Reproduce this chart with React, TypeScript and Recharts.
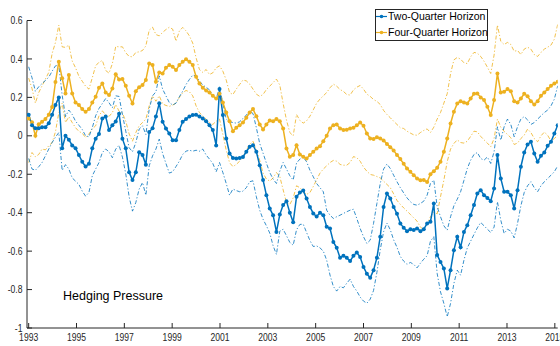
import React from 'react';
import { LineChart, Line, XAxis, YAxis } from 'recharts';

const START_YEAR = 1993;
const STEP_YEARS = 0.14;
const yearTicks = [1993, 1995, 1997, 1999, 2001, 2003, 2005, 2007, 2009, 2011, 2013, 2015];
const valueTicks = [-1, -0.8, -0.6, -0.4, -0.2, 0, 0.2, 0.4, 0.6];
const legendLabels = ['Two-Quarter Horizon', 'Four-Quarter Horizon'];
const noteText = 'Hedging Pressure';

// Two-Quarter Horizon: estimate, upper and lower bands
const twoQuarter = [
  0.11, 0.055, 0.04, 0.04, 0.045, 0.045, 0.065, 0.11, 0.16, 0.2,
  -0.065, 0.0, -0.02, -0.05, -0.065, -0.1, -0.135, -0.16, -0.145, -0.065,
  -0.015, 0.01, 0.09, 0.1, 0.03, 0.055, 0.075, 0.115, -0.015, -0.065,
  -0.19, -0.23, -0.19, -0.085, -0.1, -0.15, 0.02, 0.04, 0.1, 0.17,
  0.073, 0.038, 0.012, -0.023, -0.023, 0.03, 0.073, 0.087, 0.1, 0.108,
  0.11, 0.1, 0.09, 0.076, 0.055, 0.03, -0.05, 0.243, 0.108, -0.014,
  -0.092, -0.115, -0.118, -0.115, -0.11, -0.083, -0.057, -0.049, -0.083, -0.153,
  -0.23, -0.309, -0.378, -0.413, -0.5, -0.41, -0.36, -0.34, -0.4, -0.45,
  -0.317, -0.295, -0.285, -0.326, -0.37, -0.404, -0.42, -0.4, -0.413, -0.473,
  -0.482, -0.552, -0.583, -0.635, -0.624, -0.635, -0.652, -0.624, -0.607, -0.631,
  -0.682, -0.718, -0.739, -0.699, -0.635, -0.525, -0.37, -0.3, -0.326, -0.37,
  -0.406, -0.456, -0.479, -0.496, -0.486, -0.49, -0.482, -0.496, -0.486, -0.456,
  -0.447, -0.352, -0.62, -0.656, -0.69, -0.794, -0.699, -0.595, -0.525, -0.58,
  -0.5, -0.465, -0.413, -0.36, -0.3, -0.283, -0.309, -0.323, -0.34, -0.274,
  -0.1, -0.222, -0.291, -0.291, -0.309, -0.378, -0.283, -0.161, -0.087, -0.045,
  -0.031, -0.092, -0.135, -0.104, -0.087, -0.052, -0.031, 0.012, 0.055,
];
const twoQuarterUpper = [
  0.359, 0.302, 0.232, 0.255, 0.272, 0.288, 0.305, 0.336, 0.364, 0.368,
  0.212, 0.1, 0.134, 0.111, 0.076, 0.055, 0.033, 0.0, -0.005, 0.042,
  0.104, 0.142, 0.168, 0.194, 0.172, 0.146, 0.208, 0.205, 0.111, 0.024,
  -0.062, -0.083, -0.035, 0.035, 0.052, 0.007, 0.139, 0.208, 0.229, 0.312,
  0.243, 0.208, 0.173, 0.16, 0.17, 0.203, 0.232, 0.267, 0.293, 0.316,
  0.312, 0.286, 0.264, 0.253, 0.239, 0.208, 0.191, 0.255, 0.168, 0.087,
  0.073, 0.069, 0.066, 0.073, 0.09, 0.108, 0.128, 0.116, 0.042, -0.04,
  -0.09, -0.142, -0.191, -0.225, -0.248, -0.184, -0.139, -0.173, -0.208, -0.23,
  -0.142, -0.121, -0.111, -0.135, -0.179, -0.213, -0.248, -0.27, -0.291, -0.387,
  -0.413, -0.43, -0.421, -0.413, -0.404, -0.395, -0.387, -0.382, -0.43, -0.482,
  -0.525, -0.56, -0.543, -0.456, -0.352, -0.248, -0.173, -0.147, -0.17, -0.205,
  -0.239, -0.27, -0.297, -0.323, -0.343, -0.357, -0.361, -0.352, -0.34, -0.309,
  -0.248, -0.23, -0.369, -0.421, -0.468, -0.491, -0.421, -0.364, -0.33, -0.291,
  -0.232, -0.17, -0.127, -0.097, -0.087, -0.118, -0.127, -0.11, -0.144, -0.083,
  0.047, -0.023, 0.047, 0.087, 0.059, -0.005, 0.047, 0.087, 0.1, 0.083,
  0.059, 0.069, 0.087, 0.104, 0.121, 0.134, 0.156, 0.191, 0.26,
];
const twoQuarterLower = [
  -0.118, -0.173, -0.179, -0.161, -0.139, -0.104, -0.069, -0.035, -0.007, 0.017,
  -0.18, -0.15, -0.173, -0.219, -0.236, -0.253, -0.288, -0.314, -0.295, -0.208,
  -0.173, -0.139, -0.087, -0.069, -0.083, -0.114, -0.069, -0.049, -0.111, -0.198,
  -0.317, -0.392, -0.347, -0.277, -0.243, -0.309, -0.156, -0.104, -0.069, -0.017,
  -0.092, -0.144, -0.194, -0.187, -0.16, -0.132, -0.097, -0.08, -0.075, -0.08,
  -0.075, -0.08, -0.069, -0.1, -0.121, -0.144, -0.187, -0.139, -0.191, -0.248,
  -0.309, -0.277, -0.285, -0.291, -0.288, -0.27, -0.239, -0.234, -0.317, -0.387,
  -0.434, -0.468, -0.506, -0.572, -0.617, -0.496, -0.486, -0.52, -0.555, -0.569,
  -0.489, -0.461, -0.46, -0.503, -0.545, -0.576, -0.573, -0.583, -0.6, -0.647,
  -0.725, -0.784, -0.808, -0.784, -0.791, -0.767, -0.746, -0.784, -0.808, -0.839,
  -0.86, -0.871, -0.85, -0.805, -0.711, -0.593, -0.499, -0.454, -0.489, -0.541,
  -0.58, -0.628, -0.652, -0.669, -0.659, -0.669, -0.687, -0.663, -0.642, -0.624,
  -0.548, -0.525, -0.716, -0.812, -0.872, -0.942, -0.872, -0.768, -0.699, -0.725,
  -0.647, -0.583, -0.548, -0.513, -0.479, -0.451, -0.468, -0.486, -0.503, -0.475,
  -0.343, -0.439, -0.508, -0.486, -0.496, -0.531, -0.456, -0.364, -0.295, -0.26,
  -0.239, -0.27, -0.291, -0.26, -0.239, -0.222, -0.205, -0.187, -0.156,
];

// Four-Quarter Horizon: estimate, upper and lower bands
const fourQuarter = [
  0.09, 0.07, 0.0, 0.06, 0.073, 0.087, 0.11, 0.15, 0.28, 0.385,
  0.3, 0.22, 0.316, 0.22, 0.173, 0.16, 0.139, 0.125, 0.139, 0.173,
  0.203, 0.25, 0.272, 0.225, 0.212, 0.246, 0.32, 0.293, 0.295, 0.26,
  0.208, 0.168, 0.232, 0.253, 0.264, 0.29, 0.376, 0.368, 0.281, 0.33,
  0.324, 0.354, 0.368, 0.36, 0.342, 0.368, 0.385, 0.399, 0.385, 0.368,
  0.307, 0.272, 0.25, 0.236, 0.225, 0.208, 0.194, 0.219, 0.173, 0.121,
  0.076, 0.024, 0.042, 0.055, 0.069, 0.094, 0.121, 0.139, 0.102, 0.059,
  0.033, 0.059, 0.08, 0.076, 0.087, 0.076, 0.038, -0.066, -0.109, -0.1,
  -0.049, -0.097, -0.109, -0.118, -0.1, -0.083, -0.066, -0.054, -0.028, 0.0,
  0.038, 0.055, 0.059, 0.038, 0.03, 0.031, 0.038, 0.042, 0.055, 0.069,
  0.052, 0.012, -0.014, -0.017, -0.007, -0.014, -0.024, -0.042, -0.059, -0.076,
  -0.1, -0.121, -0.146, -0.17, -0.187, -0.205, -0.222, -0.231, -0.23, -0.24,
  -0.2, -0.184, -0.166, -0.135, -0.083, -0.014, 0.064, 0.125, 0.168, 0.18,
  0.173, 0.168, 0.194, 0.219, 0.22, 0.2, 0.186, 0.151, 0.108, 0.186,
  0.324, 0.225, 0.229, 0.243, 0.232, 0.18, 0.173, 0.194, 0.219, 0.206,
  0.18, 0.163, 0.18, 0.208, 0.225, 0.243, 0.26, 0.272, 0.281,
];
const fourQuarterUpper = [
  0.3, 0.246, 0.17, 0.225, 0.26, 0.295, 0.33, 0.428, 0.486, 0.576,
  0.463, 0.46, 0.472, 0.389, 0.354, 0.31, 0.284, 0.258, 0.243, 0.302,
  0.364, 0.383, 0.392, 0.34, 0.326, 0.376, 0.465, 0.463, 0.463, 0.432,
  0.413, 0.411, 0.434, 0.437, 0.444, 0.468, 0.55, 0.565, 0.527, 0.52,
  0.538, 0.553, 0.565, 0.555, 0.492, 0.545, 0.564, 0.546, 0.52, 0.482,
  0.406, 0.345, 0.33, 0.345, 0.319, 0.328, 0.354, 0.364, 0.336, 0.29,
  0.225, 0.215, 0.243, 0.267, 0.29, 0.286, 0.269, 0.243, 0.217, 0.205,
  0.215, 0.241, 0.258, 0.277, 0.295, 0.264, 0.168, 0.082, 0.017, 0.0,
  0.111, 0.08, 0.066, 0.078, 0.102, 0.135, 0.17, 0.191, 0.208, 0.225,
  0.25, 0.269, 0.258, 0.241, 0.231, 0.215, 0.212, 0.239, 0.253, 0.262,
  0.243, 0.217, 0.205, 0.189, 0.179, 0.163, 0.132, 0.111, 0.094, 0.076,
  0.059, 0.042, 0.038, 0.024, 0.014, 0.005, 0.003, 0.017, 0.028, 0.036,
  0.017, 0.045, 0.087, 0.121, 0.17, 0.219, 0.323, 0.395, 0.408, 0.399,
  0.38, 0.376, 0.411, 0.434, 0.43, 0.413, 0.388, 0.357, 0.324, 0.42,
  0.576, 0.492, 0.475, 0.486, 0.475, 0.44, 0.444, 0.423, 0.451, 0.461,
  0.451, 0.423, 0.413, 0.434, 0.451, 0.461, 0.472, 0.503, 0.58,
];
const fourQuarterLower = [
  -0.139, -0.087, -0.109, -0.097, -0.069, -0.073, -0.052, -0.035, 0.021, 0.12,
  0.17, 0.069, 0.099, 0.069, 0.042, 0.023, 0.014, -0.01, 0.01, 0.036,
  0.052, 0.104, 0.13, 0.109, 0.101, 0.121, 0.163, 0.128, 0.118, 0.076,
  0.01, -0.028, 0.017, 0.052, 0.069, 0.087, 0.156, 0.208, 0.18, 0.208,
  0.166, 0.158, 0.153, 0.16, 0.17, 0.2, 0.224, 0.236, 0.229, 0.208,
  0.156, 0.121, 0.104, 0.087, 0.069, 0.059, 0.076, 0.087, 0.007, -0.075,
  -0.14, -0.16, -0.149, -0.132, -0.111, -0.076, -0.045, -0.028, -0.073, -0.128,
  -0.194, -0.225, -0.236, -0.219, -0.191, -0.212, -0.281, -0.347, -0.357, -0.323,
  -0.26, -0.27, -0.288, -0.305, -0.295, -0.264, -0.229, -0.194, -0.173, -0.156,
  -0.139, -0.128, -0.132, -0.149, -0.153, -0.153, -0.139, -0.108, -0.114, -0.132,
  -0.163, -0.184, -0.201, -0.205, -0.212, -0.219, -0.236, -0.253, -0.27, -0.302,
  -0.336, -0.357, -0.375, -0.392, -0.409, -0.427, -0.444, -0.475, -0.489, -0.456,
  -0.421, -0.399, -0.406, -0.317, -0.231, -0.135, -0.069, -0.04, -0.021, -0.035,
  -0.038, -0.028, -0.003, 0.024, 0.021, -0.003, -0.021, -0.038, -0.057, -0.014,
  0.087, 0.045, 0.023, 0.007, -0.01, -0.045, -0.038, -0.014, 0.003, 0.035,
  0.017, -0.014, -0.031, 0.0, 0.019, 0.003, -0.028, -0.014, 0.003,
];

const BLUE = '#0072BD';
const ORANGE = '#EDB120';
const AXIS = '#262626';
const FONT = '"Liberation Sans", Arial, Helvetica, sans-serif';
const X_DOMAIN: [number, number] = [1992.93, 2015.12];
const Y_DOMAIN: [number, number] = [-1, 0.6];
const BAND_DASH = '4 2 1.2 2';

const rows = twoQuarter.map((v, i) => ({
  t: START_YEAR + i * STEP_YEARS,
  two: v,
  twoHi: twoQuarterUpper[i],
  twoLo: twoQuarterLower[i],
  four: fourQuarter[i],
  fourHi: fourQuarterUpper[i],
  fourLo: fourQuarterLower[i],
}));

const XTick = (props: any) => {
  const { x, y, payload } = props;
  return (
    <g transform={`translate(${x},${y}) scale(0.86,1)`}>
      <text x={0} y={0} dy={10} textAnchor="middle" fontSize={10} fontFamily={FONT} fill={AXIS}>
        {payload.value}
      </text>
    </g>
  );
};

const YTick = (props: any) => {
  const { x, y, payload } = props;
  return (
    <g transform={`translate(${x},${y}) scale(0.86,1)`}>
      <text x={0} y={0} dy="0.36em" textAnchor="end" fontSize={10} fontFamily={FONT} fill={AXIS}>
        {payload.value}
      </text>
    </g>
  );
};

const colors = [BLUE, ORANGE];

export default function App() {
  return (
    <div style={{ position: 'absolute', left: 0, top: 0, width: 560, height: 346, background: '#fff' }}>
      <LineChart
        width={560}
        height={346}
        data={rows}
        margin={{ top: 20.5, right: 2.3, bottom: 0, left: 0 }}
      >
        <XAxis
          dataKey="t"
          type="number"
          domain={X_DOMAIN}
          ticks={yearTicks}
          allowDataOverflow
          height={18}
          tickSize={-5}
          tickMargin={8}
          stroke={AXIS}
          tick={<XTick />}
          interval={0}
        />
        <XAxis
          xAxisId="top"
          orientation="top"
          dataKey="t"
          type="number"
          domain={X_DOMAIN}
          ticks={yearTicks}
          allowDataOverflow
          height={0}
          tickSize={-5}
          tick={false}
          stroke={AXIS}
        />
        <YAxis
          type="number"
          domain={Y_DOMAIN}
          ticks={valueTicks}
          allowDataOverflow
          width={27}
          tickSize={-5}
          tickMargin={9.5}
          stroke={AXIS}
          tick={<YTick />}
          interval={0}
        />
        <YAxis
          yAxisId="right"
          orientation="right"
          type="number"
          domain={Y_DOMAIN}
          ticks={valueTicks}
          allowDataOverflow
          width={0}
          tickSize={-5}
          tick={false}
          stroke={AXIS}
        />
        <Line dataKey="fourHi" type="linear" stroke={ORANGE} strokeWidth={0.8} strokeDasharray={BAND_DASH} dot={false} activeDot={false} isAnimationActive={false} />
        <Line dataKey="fourLo" type="linear" stroke={ORANGE} strokeWidth={0.8} strokeDasharray={BAND_DASH} dot={false} activeDot={false} isAnimationActive={false} />
        <Line dataKey="twoHi" type="linear" stroke={BLUE} strokeWidth={0.8} strokeDasharray={BAND_DASH} dot={false} activeDot={false} isAnimationActive={false} />
        <Line dataKey="twoLo" type="linear" stroke={BLUE} strokeWidth={0.8} strokeDasharray={BAND_DASH} dot={false} activeDot={false} isAnimationActive={false} />
        <Line dataKey="four" type="linear" stroke={ORANGE} strokeWidth={1.5} dot={{ r: 2, fill: ORANGE, stroke: 'none' }} activeDot={false} isAnimationActive={false} />
        <Line dataKey="two" type="linear" stroke={BLUE} strokeWidth={1.5} dot={{ r: 2, fill: BLUE, stroke: 'none' }} activeDot={false} isAnimationActive={false} />
      </LineChart>

      <div
        style={{
          position: 'absolute', left: 63, top: 289, fontSize: 12.5, lineHeight: '14px',
          fontFamily: FONT, color: '#000', whiteSpace: 'nowrap',
        }}
      >
        {noteText}
      </div>

      <div
        style={{
          position: 'absolute', left: 375, top: 9, width: 113, height: 32, boxSizing: 'border-box',
          border: `1px solid ${AXIS}`, background: '#fff', fontFamily: FONT, fontSize: 10.5, color: '#000',
        }}
      >
        {legendLabels.map((label, k) => (
          <div
            key={label}
            style={{ position: 'absolute', left: 0, top: k === 0 ? -1.5 : 14.5, height: 15, display: 'flex', alignItems: 'center', whiteSpace: 'nowrap' }}
          >
            <svg width={12} height={15} style={{ display: 'block' }}>
              <line x1={0} x2={11} y1={7.5} y2={7.5} stroke={colors[k]} strokeWidth={1.2} />
              <circle cx={5.5} cy={7.5} r={1.8} fill={colors[k]} />
            </svg>
            <span style={{ lineHeight: '15px' }}>{label}</span>
          </div>
        ))}
      </div>
    </div>
  );
}
